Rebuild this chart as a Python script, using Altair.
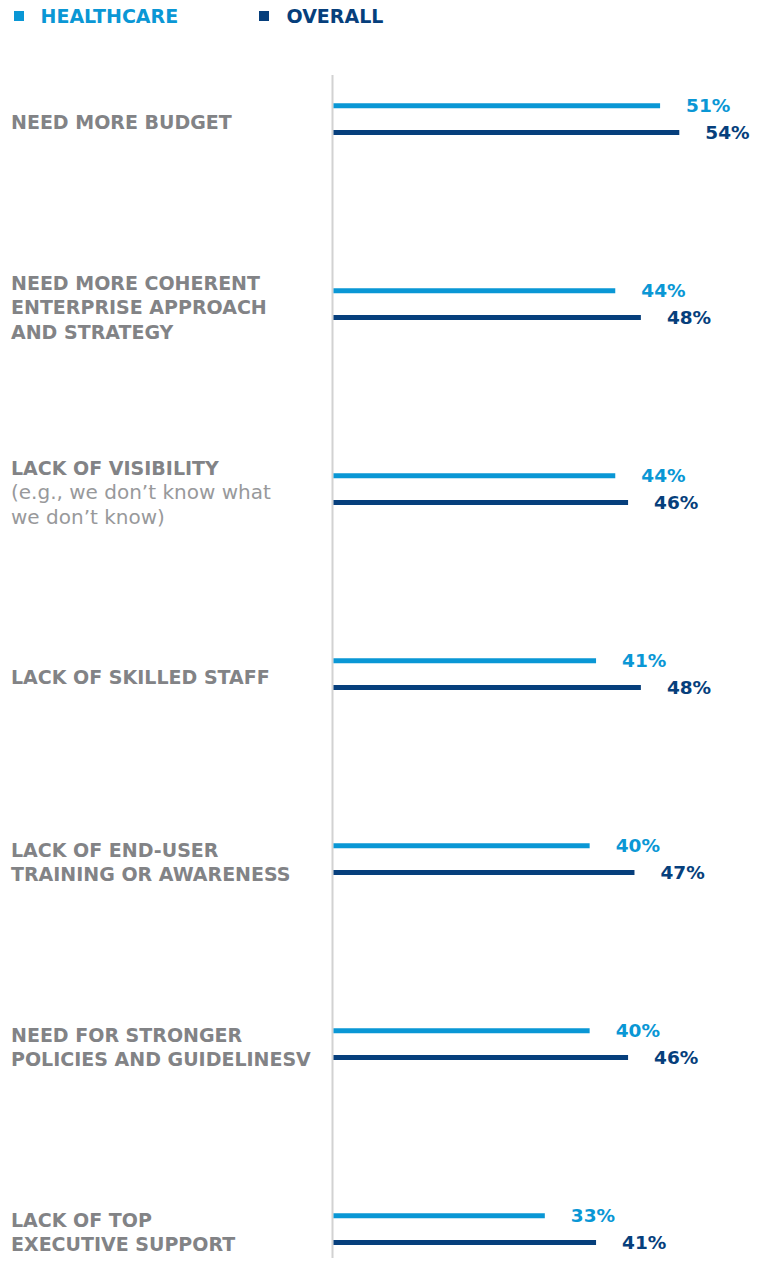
import altair as alt
import pandas as pd

# ---------------- data ----------------
categories = [
    "Need more budget",
    "Need more coherent enterprise approach and strategy",
    "Lack of visibility",
    "Lack of skilled staff",
    "Lack of end-user training or awareness",
    "Need for stronger policies and guidelines",
    "Lack of top executive support",
]
label_main = [
    "NEED MORE BUDGET",
    "NEED MORE COHERENT\nENTERPRISE APPROACH\nAND STRATEGY",
    "LACK OF VISIBILITY\n\n",
    "LACK OF SKILLED STAFF",
    "LACK OF END-USER\nTRAINING OR AWARENESS",
    "NEED FOR STRONGER\nPOLICIES AND GUIDELINESV",
    "LACK OF TOP\nEXECUTIVE SUPPORT",
]
label_sub = [
    "",
    "",
    "\n(e.g., we don\u2019t know what\nwe don\u2019t know)",
    "",
    "",
    "",
    "",
]
series = ["HEALTHCARE", "OVERALL"]
healthcare = [51, 44, 44, 41, 40, 40, 33]
overall = [54, 48, 46, 48, 47, 46, 41]
colors = ["#0a97d5", "#063f7c"]

FONT = "DejaVu Sans"
LH = 24.5

df = pd.DataFrame({
    "category": categories * 2,
    "series": [series[0]] * len(categories) + [series[1]] * len(categories),
    "value": healthcare + overall,
})
labels = pd.DataFrame({"category": categories, "main": label_main, "sub": label_sub})
legend_df = pd.DataFrame({"series": series})

xscale = alt.Scale(domain=[0, 54], range=[325.5, 671.3])
color = alt.Color("series:N", scale=alt.Scale(domain=series, range=colors), legend=None)


def ypos(rng):
    return alt.Y("category:N",
                 scale=alt.Scale(type="point", domain=categories, range=rng, padding=0),
                 axis=None)


ranges = {series[0]: [97.8, 1207.8], series[1]: [124.5, 1234.5]}

layers = []
for s in series:
    base = alt.Chart(df).transform_filter(alt.datum.series == s)
    bars = base.mark_rule(strokeWidth=5, strokeCap="butt").encode(
        x=alt.X("value:Q", scale=xscale, axis=None),
        x2=alt.datum(0),
        y=ypos(ranges[s]),
        color=color,
    )
    txt = base.transform_calculate(
        lab="format(datum.value, 'd') + '%'"
    ).mark_text(align="left", baseline="middle", dx=26, font=FONT,
                fontSize=18.5, fontWeight="bold").encode(
        x=alt.X("value:Q", scale=xscale, axis=None),
        y=ypos(ranges[s]),
        text="lab:N",
        color=color,
    )
    layers += [bars, txt]

# legend (drawn manually)
legend_sym_x = {series[0]: 11, series[1]: 256}
legend_txt_x = {series[0]: 32.5, series[1]: 278.5}
legend_layers = []
for s in series:
    lb = alt.Chart(legend_df).transform_filter(alt.datum.series == s)
    legend_layers.append(
        lb.mark_square(size=100, opacity=1, strokeWidth=0).encode(
            x=alt.value(legend_sym_x[s]), y=alt.value(8), color=color)
    )
    legend_layers.append(
        lb.mark_text(align="left", baseline="middle", font=FONT, fontSize=19,
                     fontWeight="bold").encode(
            x=alt.value(legend_txt_x[s]), y=alt.value(9), text="series:N", color=color)
    )

# category labels, vertically centred blocks
label_range = [115, 1225]
label_layers = []
for field, weight, size, col in [("main", "bold", 19, "#828386"),
                                 ("sub", "normal", 20, "#98999b")]:
    for n in [1, 2, 3]:
        label_layers.append(
            alt.Chart(labels).transform_calculate(
                nl="length(split(datum.%s, '\\n'))" % field
            ).transform_filter(alt.datum.nl == n).mark_text(
                align="left", baseline="middle", lineBreak="\n", lineHeight=LH,
                dy=-(n - 1) * LH / 2,
                font=FONT, fontSize=size, fontWeight=weight, color=col,
            ).encode(x=alt.value(3), y=ypos(label_range), text="%s:N" % field)
        )

axis_line = alt.Chart(pd.DataFrame({"a": [0]})).mark_rule(
    color="#d2d2d2", strokeWidth=2
).encode(x=alt.value(324.5), y=alt.value(67), y2=alt.value(1258))

chart = alt.layer(axis_line, *layers, *legend_layers, *label_layers).resolve_scale(
    y="independent"
).properties(
    width=749, height=1250, padding=0, background="white",
    autosize=alt.AutoSizeParams(type="none"),
).configure_view(strokeWidth=0, stroke="transparent")

chart.save("out.html", embed_options={"renderer": "svg", "actions": False})
